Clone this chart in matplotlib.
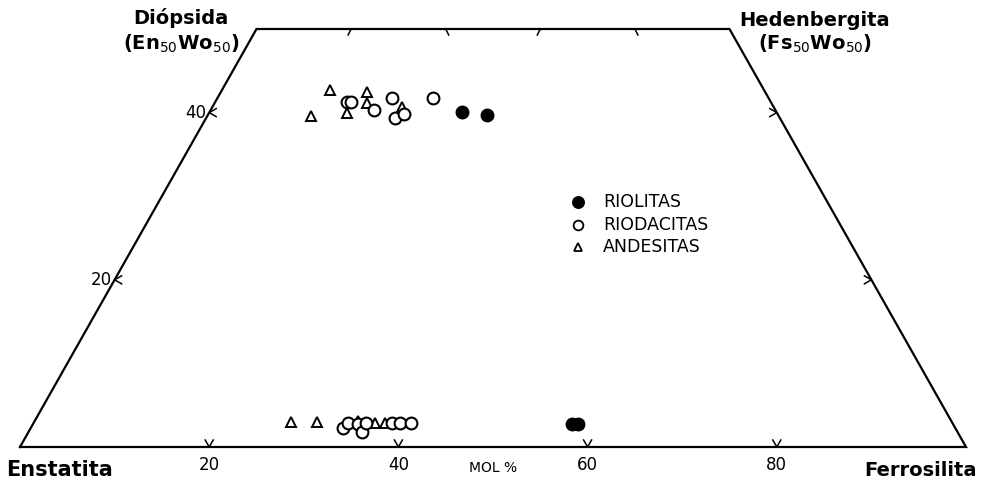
import matplotlib.pyplot as plt
import numpy as np

# composiciones (mol %): Fs y Wo de cada piroxeno
riolitas_fs = [26.7, 29.5, 57.0, 57.6]
riolitas_wo = [40.1, 39.7, 2.75, 2.75]

riodacitas_fs = [13.9, 14.3, 17.3, 18.5, 19.9, 20.7, 22.8,
                 33.0, 33.2, 34.3, 35.3, 35.1, 37.9, 38.7, 39.9]
riodacitas_wo = [41.3, 41.3, 40.3, 41.7, 39.4, 39.8, 41.7,
                 2.3, 2.9, 2.8, 1.8, 2.9, 2.9, 2.9, 2.9]

andesitas_fs = [11.4, 15.4, 11.0, 14.6, 16.1, 20.0,
                27.1, 29.9, 34.2, 36.1, 37.1]
andesitas_wo = [42.7, 42.5, 39.6, 40.0, 41.1, 40.7,
                3.0, 3.0, 3.1, 2.9, 2.9]

base_ticks = [20, 40, 60, 80]
side_ticks = [20, 40]
top_ticks = [10, 20, 30, 40]

SX = 9.46  # px por unidad horizontal
SY = 8.36  # px por unidad de Wo


def proj(fs, wo):
    fs = np.asarray(fs, float)
    wo = np.asarray(wo, float)
    return fs + wo / 2.0, wo


fig = plt.figure(figsize=(9.89, 4.83), dpi=100)
ax = fig.add_axes([0, 0, 1, 1])
ax.set_xlim(-20 / SX, (989 - 20) / SX)
ax.set_ylim(-(483 - 447) / SY, 447 / SY)
ax.axis('off')

# cuadrilatero
qx = [0, 100, 75, 25, 0]
qy = [0, 0, 50, 50, 0]
ax.plot(qx, qy, color='black', lw=1.6, solid_joinstyle='miter')

lw_t = 1.1
# marcas en la base (V)
for t in base_ticks:
    ax.plot([t - 4 / SX, t, t + 4 / SX], [7 / SY, 0, 7 / SY], color='black', lw=lw_t)
    ax.text(t, -9 / SY, str(t), ha='center', va='top', fontsize=12)

# marcas en los lados
for w in side_ticks:
    xl = w / 2.0
    ax.plot([xl + 7 / SX, xl, xl + 7 / SX], [w + 4 / SY, w, w - 4 / SY], color='black', lw=lw_t)
    ax.text(xl - 3 / SX, w, str(w), ha='right', va='center', fontsize=12)
    xr = 100 - w / 2.0
    ax.plot([xr - 7 / SX, xr, xr - 7 / SX], [w + 4 / SY, w, w - 4 / SY], color='black', lw=lw_t)

# marcas en el borde superior
for i, t in enumerate(top_ticks):
    xt = 25 + t
    d = -3 if i % 2 == 0 else 3
    ax.plot([xt, xt + d / SX], [50, 50 - 6 / SY], color='black', lw=lw_t)

# datos
x, y = proj(andesitas_fs, andesitas_wo)
ax.plot(x, y, '^', ms=7, mfc='white', mec='black', mew=1.4, ls='none')
x, y = proj(riodacitas_fs, riodacitas_wo)
ax.plot(x, y, 'o', ms=8.5, mfc='white', mec='black', mew=1.5, ls='none')
x, y = proj(riolitas_fs, riolitas_wo)
ax.plot(x, y, 'o', ms=9, mfc='black', mec='black', ls='none')

# leyenda
lx = (578 - 20) / SX
tx = (603 - 20) / SX
leg = [('o', 'black', 8, 'RIOLITAS'), ('o', 'white', 7, 'RIODACITAS'), ('^', 'white', 6, 'ANDESITAS')]
for k, (m, fc, ms, lab) in enumerate(leg):
    yy = (447 - (202 + 22.5 * k)) / SY
    ax.plot([lx], [yy], m, ms=ms, mfc=fc, mec='black', mew=1.3)
    ax.text(tx, yy, lab, ha='left', va='center', fontsize=12.5)

# nombres de los extremos
bold = dict(fontsize=14, fontweight='bold', ha='center', va='center')
ax.text((181 - 20) / SX, (447 - 18) / SY, 'Diópsida', **bold)
ax.text((181 - 20) / SX, (447 - 44) / SY, '(En$_{50}$Wo$_{50}$)', **bold)
ax.text((815 - 20) / SX, (447 - 20) / SY, 'Hedenbergita', **bold)
ax.text((815 - 20) / SX, (447 - 44) / SY, '(Fs$_{50}$Wo$_{50}$)', **bold)
ax.text((60 - 20) / SX, (447 - 470) / SY, 'Enstatita', fontsize=15, fontweight='bold', ha='center', va='center')
ax.text((920 - 20) / SX, (447 - 470) / SY, 'Ferrosilita', **bold)
ax.text((493 - 20) / SX, (447 - 468) / SY, 'MOL %', ha='center', va='center', fontsize=10)

fig.savefig('out.png', dpi=100)
